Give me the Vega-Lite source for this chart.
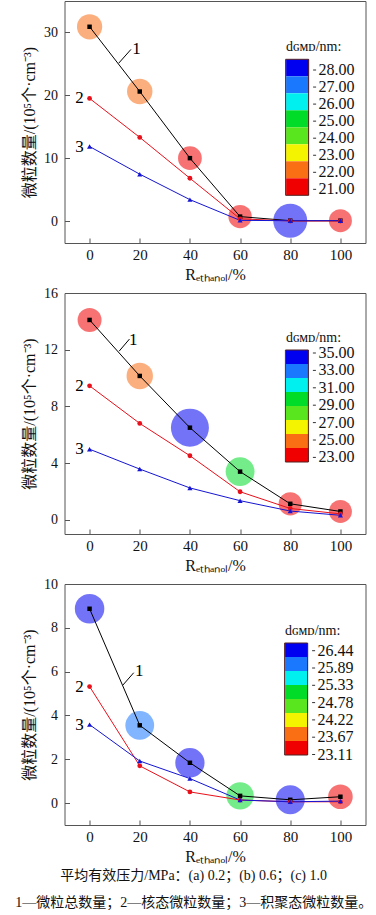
{
  "$schema": "https://vega.github.io/schema/vega-lite/v6.json",
  "padding": {"left": 14.5, "top": 0, "right": 5, "bottom": 4},
  "datasets": {
    "s1": [
      {"x": 0, "y": 30.9, "s": "1"}, {"x": 20, "y": 20.6, "s": "1"}, {"x": 40, "y": 10.0, "s": "1"}, {"x": 60, "y": 0.7, "s": "1"}, {"x": 80, "y": 0.05, "s": "1"}, {"x": 100, "y": 0.05, "s": "1"},
      {"x": 0, "y": 19.5, "s": "2"}, {"x": 20, "y": 13.3, "s": "2"}, {"x": 40, "y": 6.8, "s": "2"}, {"x": 60, "y": 0.35, "s": "2"}, {"x": 80, "y": 0.0, "s": "2"}, {"x": 100, "y": 0.0, "s": "2"},
      {"x": 0, "y": 11.85, "s": "3"}, {"x": 20, "y": 7.45, "s": "3"}, {"x": 40, "y": 3.4, "s": "3"}, {"x": 60, "y": 0.1, "s": "3"}, {"x": 80, "y": 0.05, "s": "3"}, {"x": 100, "y": 0.05, "s": "3"}
    ],
    "b1": [
      {"x": 0, "y": 30.9, "d": 22.2, "bin": 7}, {"x": 20, "y": 20.6, "d": 22.3, "bin": 7}, {"x": 40, "y": 10.0, "d": 21.4, "bin": 8},
      {"x": 60, "y": 0.7, "d": 21.2, "bin": 8}, {"x": 80, "y": 0.05, "d": 28.0, "bin": 1}, {"x": 100, "y": 0.05, "d": 21.0, "bin": 8}
    ],
    "t1": [{"x": 18.7, "y": 27.4, "t": "1"}, {"x": -4.0, "y": 19.5, "t": "2"}, {"x": -4.0, "y": 11.85, "t": "3"}],
    "r1": [{"x": 11.6, "y": 25.1, "x2": 16.5, "y2": 27.3}],
    "k1": [{"lab": "28.00"}, {"lab": "27.00"}, {"lab": "26.00"}, {"lab": "25.00"}, {"lab": "24.00"}, {"lab": "23.00"}, {"lab": "22.00"}, {"lab": "21.00"}],
    "s2": [
      {"x": 0, "y": 14.1, "s": "1"}, {"x": 20, "y": 10.15, "s": "1"}, {"x": 40, "y": 6.5, "s": "1"}, {"x": 60, "y": 3.4, "s": "1"}, {"x": 80, "y": 1.13, "s": "1"}, {"x": 100, "y": 0.59, "s": "1"},
      {"x": 0, "y": 9.45, "s": "2"}, {"x": 20, "y": 6.8, "s": "2"}, {"x": 40, "y": 4.52, "s": "2"}, {"x": 60, "y": 1.98, "s": "2"}, {"x": 80, "y": 0.8, "s": "2"}, {"x": 100, "y": 0.42, "s": "2"},
      {"x": 0, "y": 4.98, "s": "3"}, {"x": 20, "y": 3.58, "s": "3"}, {"x": 40, "y": 2.25, "s": "3"}, {"x": 60, "y": 1.35, "s": "3"}, {"x": 80, "y": 0.62, "s": "3"}, {"x": 100, "y": 0.32, "s": "3"}
    ],
    "b2": [
      {"x": 0, "y": 14.1, "d": 23.6, "bin": 8}, {"x": 20, "y": 10.15, "d": 25.2, "bin": 7}, {"x": 40, "y": 6.5, "d": 35.0, "bin": 1},
      {"x": 60, "y": 3.4, "d": 27.0, "bin": 4}, {"x": 80, "y": 1.13, "d": 23.2, "bin": 8}, {"x": 100, "y": 0.59, "d": 23.0, "bin": 8}
    ],
    "t2": [{"x": 17.4, "y": 12.7, "t": "1"}, {"x": -4.0, "y": 9.45, "t": "2"}, {"x": -4.0, "y": 4.98, "t": "3"}],
    "r2": [{"x": 11.8, "y": 11.9, "x2": 15.9, "y2": 12.75}],
    "k2": [{"lab": "35.00"}, {"lab": "33.00"}, {"lab": "31.00"}, {"lab": "29.00"}, {"lab": "27.00"}, {"lab": "25.00"}, {"lab": "23.00"}],
    "s3": [
      {"x": 0, "y": 8.87, "s": "1"}, {"x": 20, "y": 3.55, "s": "1"}, {"x": 40, "y": 1.84, "s": "1"}, {"x": 60, "y": 0.33, "s": "1"}, {"x": 80, "y": 0.15, "s": "1"}, {"x": 100, "y": 0.29, "s": "1"},
      {"x": 0, "y": 5.32, "s": "2"}, {"x": 20, "y": 1.7, "s": "2"}, {"x": 40, "y": 0.51, "s": "2"}, {"x": 60, "y": 0.14, "s": "2"}, {"x": 80, "y": 0.06, "s": "2"}, {"x": 100, "y": 0.06, "s": "2"},
      {"x": 0, "y": 3.58, "s": "3"}, {"x": 20, "y": 1.92, "s": "3"}, {"x": 40, "y": 1.12, "s": "3"}, {"x": 60, "y": 0.14, "s": "3"}, {"x": 80, "y": 0.06, "s": "3"}, {"x": 100, "y": 0.09, "s": "3"}
    ],
    "b3": [
      {"x": 0, "y": 8.87, "d": 26.44, "bin": 1}, {"x": 20, "y": 3.55, "d": 25.9, "bin": 2}, {"x": 40, "y": 1.84, "d": 26.3, "bin": 1},
      {"x": 60, "y": 0.33, "d": 25.0, "bin": 4}, {"x": 80, "y": 0.15, "d": 26.1, "bin": 1}, {"x": 100, "y": 0.29, "d": 23.2, "bin": 8}
    ],
    "t3": [{"x": 19.8, "y": 6.05, "t": "1"}, {"x": -4.0, "y": 5.32, "t": "2"}, {"x": -4.0, "y": 3.58, "t": "3"}],
    "r3": [{"x": 13.3, "y": 5.39, "x2": 17.6, "y2": 5.95}],
    "k3": [{"lab": "26.44"}, {"lab": "25.89"}, {"lab": "25.33"}, {"lab": "24.78"}, {"lab": "24.22"}, {"lab": "23.67"}, {"lab": "23.11"}]
  },
  "bounds": "flush",
  "spacing": 50,
  "vconcat": [
    {
      "width": 301, "height": 242,
      "resolve": {"scale": {"color": "independent", "shape": "independent", "size": "independent", "opacity": "independent"}},
      "encoding": {
        "x": {"field": "x", "type": "quantitative", "scale": {"domain": [-10, 110], "nice": false, "zero": false}, "axis": {"values": [0, 20, 40, 60, 80, 100], "title": "Rₑₜₕₐₙₒₗ/%"}},
        "y": {"field": "y", "type": "quantitative", "scale": {"domain": [-3.5, 35], "nice": false, "zero": false}, "axis": {"values": [0, 10, 20, 30], "title": "微粒数量/(10⁵个·cm⁻³)"}}
      },
      "layer": [
        {"data": {"name": "b1"}, "mark": {"type": "circle", "opacity": 0.55},
         "encoding": {
           "color": {"field": "bin", "type": "ordinal", "scale": {"domain": [1, 2, 3, 4, 5, 6, 7, 8], "range": ["#0000f0", "#1a78ff", "#00f0f0", "#00dc28", "#5ae61e", "#f4f400", "#fa6e14", "#f00000"]},
             "legend": {"orient": "none", "legendX": 221.6, "legendY": 39.3, "title": "dɢᴍᴅ/nm:", "titlePadding": 5, "symbolType": "M-1,-1H1.706V1H-1Z", "symbolSize": 289, "symbolStrokeWidth": 0, "symbolOpacity": 1, "rowPadding": 0, "labelExpr": "''", "labelFontSize": 1, "labelOffset": 0, "padding": 0}},
           "size": {"field": "d", "type": "quantitative", "scale": {"domain": [21, 28], "range": [529, 1156], "zero": false}, "legend": null}
         }},
        {"data": {"name": "k1"}, "mark": {"type": "point", "filled": false, "color": "#552222"},
         "encoding": {"opacity": {"field": "lab", "type": "ordinal", "scale": {"domain": ["bar"], "range": [1]},
           "legend": {"orient": "none", "legendX": 164.1, "legendY": 57.8, "title": null, "symbolType": "M-0.169,-1H0.169V1H-0.169Z", "symbolSize": 18496, "symbolStrokeWidth": 1, "symbolStrokeColor": "#552222", "symbolFillColor": "transparent", "labelExpr": "''", "labelFontSize": 1, "labelOffset": -100, "padding": 0}}}},
        {"data": {"name": "s1"}, "mark": {"type": "line", "strokeWidth": 1},
         "encoding": {"color": {"field": "s", "type": "nominal", "scale": {"domain": ["1", "2", "3"], "range": ["#000000", "#e8101a", "#1414d2"]}, "legend": null}}},
        {"data": {"name": "s1"}, "mark": {"type": "point", "filled": true, "opacity": 1},
         "encoding": {
           "color": {"field": "s", "type": "nominal", "scale": {"domain": ["1", "2", "3"], "range": ["#000000", "#e8101a", "#1414d2"]}, "legend": null},
           "shape": {"field": "s", "type": "nominal", "scale": {"domain": ["1", "2", "3"], "range": ["square", "circle", "triangle-up"]}, "legend": null},
           "size": {"field": "s", "type": "ordinal", "scale": {"domain": ["1", "2", "3"], "range": [20, 26, 34]}, "legend": null}
         }},
        {"data": {"name": "r1"}, "mark": {"type": "rule", "color": "#000000", "strokeWidth": 1},
         "encoding": {"x2": {"field": "x2"}, "y2": {"field": "y2"}}},
        {"data": {"name": "t1"}, "mark": {"type": "text", "font": "Liberation Serif", "fontSize": 17, "color": "#000000"},
         "encoding": {"text": {"field": "t"}}},
        {"data": {"name": "k1"}, "mark": {"type": "point", "opacity": 0, "color": "#333333"},
         "encoding": {"shape": {"field": "lab", "type": "nominal", "scale": {"domain": ["28.00", "27.00", "26.00", "25.00", "24.00", "23.00", "22.00", "21.00"], "range": ["M-1,0H1"]},
           "legend": {"orient": "none", "legendX": 242.1, "legendY": 61, "title": null, "symbolSize": 9, "symbolStrokeWidth": 1, "symbolStrokeColor": "#333333", "symbolFillColor": "transparent", "symbolOpacity": 1, "labelFontSize": 16, "labelOffset": -4, "rowPadding": 1.05, "padding": 0}}}}
      ]
    },
    {
      "width": 301, "height": 241,
      "resolve": {"scale": {"color": "independent", "shape": "independent", "size": "independent", "opacity": "independent"}},
      "encoding": {
        "x": {"field": "x", "type": "quantitative", "scale": {"domain": [-10, 110], "nice": false, "zero": false}, "axis": {"values": [0, 20, 40, 60, 80, 100], "title": "Rₑₜₕₐₙₒₗ/%"}},
        "y": {"field": "y", "type": "quantitative", "scale": {"domain": [-1, 16], "nice": false, "zero": false}, "axis": {"values": [0, 4, 8, 12, 16], "title": "微粒数量/(10⁵个·cm⁻³)"}}
      },
      "layer": [
        {"data": {"name": "b2"}, "mark": {"type": "circle", "opacity": 0.55},
         "encoding": {
           "color": {"field": "bin", "type": "ordinal", "scale": {"domain": [1, 2, 3, 4, 5, 6, 7, 8], "range": ["#0000f0", "#1a78ff", "#00f0f0", "#00dc28", "#5ae61e", "#f4f400", "#fa6e14", "#f00000"]},
             "legend": {"orient": "none", "legendX": 221.4, "legendY": 38, "title": "dɢᴍᴅ/nm:", "titlePadding": 5, "symbolType": "M-1,-1H2.286V1H-1Z", "symbolSize": 196, "symbolStrokeWidth": 0, "symbolOpacity": 1, "rowPadding": 0, "labelExpr": "''", "labelFontSize": 1, "labelOffset": 0, "padding": 0}},
           "size": {"field": "d", "type": "quantitative", "scale": {"domain": [23, 35], "range": [529, 1444], "zero": false}, "legend": null}
         }},
        {"data": {"name": "k2"}, "mark": {"type": "point", "filled": false, "color": "#552222"},
         "encoding": {"opacity": {"field": "lab", "type": "ordinal", "scale": {"domain": ["bar"], "range": [1]},
           "legend": {"orient": "none", "legendX": 175.9, "legendY": 56.5, "title": null, "symbolType": "M-0.205,-1H0.205V1H-0.205Z", "symbolSize": 12544, "symbolStrokeWidth": 1, "symbolStrokeColor": "#552222", "symbolFillColor": "transparent", "labelExpr": "''", "labelFontSize": 1, "labelOffset": -100, "padding": 0}}}},
        {"data": {"name": "s2"}, "mark": {"type": "line", "strokeWidth": 1},
         "encoding": {"color": {"field": "s", "type": "nominal", "scale": {"domain": ["1", "2", "3"], "range": ["#000000", "#e8101a", "#1414d2"]}, "legend": null}}},
        {"data": {"name": "s2"}, "mark": {"type": "point", "filled": true, "opacity": 1},
         "encoding": {
           "color": {"field": "s", "type": "nominal", "scale": {"domain": ["1", "2", "3"], "range": ["#000000", "#e8101a", "#1414d2"]}, "legend": null},
           "shape": {"field": "s", "type": "nominal", "scale": {"domain": ["1", "2", "3"], "range": ["square", "circle", "triangle-up"]}, "legend": null},
           "size": {"field": "s", "type": "ordinal", "scale": {"domain": ["1", "2", "3"], "range": [20, 26, 34]}, "legend": null}
         }},
        {"data": {"name": "r2"}, "mark": {"type": "rule", "color": "#000000", "strokeWidth": 1},
         "encoding": {"x2": {"field": "x2"}, "y2": {"field": "y2"}}},
        {"data": {"name": "t2"}, "mark": {"type": "text", "font": "Liberation Serif", "fontSize": 17, "color": "#000000"},
         "encoding": {"text": {"field": "t"}}},
        {"data": {"name": "k2"}, "mark": {"type": "point", "opacity": 0, "color": "#333333"},
         "encoding": {"shape": {"field": "lab", "type": "nominal", "scale": {"domain": ["35.00", "33.00", "31.00", "29.00", "27.00", "25.00", "23.00"], "range": ["M-1,0H1"]},
           "legend": {"orient": "none", "legendX": 241.9, "legendY": 52, "title": null, "symbolSize": 9, "symbolStrokeWidth": 1, "symbolStrokeColor": "#333333", "symbolFillColor": "transparent", "symbolOpacity": 1, "labelFontSize": 16, "labelOffset": -4, "rowPadding": 1.4, "padding": 0}}}}
      ]
    },
    {
      "width": 301, "height": 241,
      "resolve": {"scale": {"color": "independent", "shape": "independent", "size": "independent", "opacity": "independent"}},
      "encoding": {
        "x": {"field": "x", "type": "quantitative", "scale": {"domain": [-10, 110], "nice": false, "zero": false}, "axis": {"values": [0, 20, 40, 60, 80, 100], "title": "Rₑₜₕₐₙₒₗ/%"}},
        "y": {"field": "y", "type": "quantitative", "scale": {"domain": [-1, 10], "nice": false, "zero": false}, "axis": {"values": [0, 2, 4, 6, 8, 10], "title": "微粒数量/(10⁵个·cm⁻³)"}}
      },
      "layer": [
        {"data": {"name": "b3"}, "mark": {"type": "circle", "opacity": 0.55},
         "encoding": {
           "color": {"field": "bin", "type": "ordinal", "scale": {"domain": [1, 2, 3, 4, 5, 6, 7, 8], "range": ["#0000f0", "#1a78ff", "#00f0f0", "#00dc28", "#5ae61e", "#f4f400", "#fa6e14", "#f00000"]},
             "legend": {"orient": "none", "legendX": 220.6, "legendY": 40, "title": "dɢᴍᴅ/nm:", "titlePadding": 5, "symbolType": "M-1,-1H2.286V1H-1Z", "symbolSize": 196, "symbolStrokeWidth": 0, "symbolOpacity": 1, "rowPadding": 0, "labelExpr": "''", "labelFontSize": 1, "labelOffset": 0, "padding": 0}},
           "size": {"field": "d", "type": "quantitative", "scale": {"domain": [23.11, 26.44], "range": [600, 870], "zero": false}, "legend": null}
         }},
        {"data": {"name": "k3"}, "mark": {"type": "point", "filled": false, "color": "#552222"},
         "encoding": {"opacity": {"field": "lab", "type": "ordinal", "scale": {"domain": ["bar"], "range": [1]},
           "legend": {"orient": "none", "legendX": 175.1, "legendY": 58.5, "title": null, "symbolType": "M-0.205,-1H0.205V1H-0.205Z", "symbolSize": 12544, "symbolStrokeWidth": 1, "symbolStrokeColor": "#552222", "symbolFillColor": "transparent", "labelExpr": "''", "labelFontSize": 1, "labelOffset": -100, "padding": 0}}}},
        {"data": {"name": "s3"}, "mark": {"type": "line", "strokeWidth": 1},
         "encoding": {"color": {"field": "s", "type": "nominal", "scale": {"domain": ["1", "2", "3"], "range": ["#000000", "#e8101a", "#1414d2"]}, "legend": null}}},
        {"data": {"name": "s3"}, "mark": {"type": "point", "filled": true, "opacity": 1},
         "encoding": {
           "color": {"field": "s", "type": "nominal", "scale": {"domain": ["1", "2", "3"], "range": ["#000000", "#e8101a", "#1414d2"]}, "legend": null},
           "shape": {"field": "s", "type": "nominal", "scale": {"domain": ["1", "2", "3"], "range": ["square", "circle", "triangle-up"]}, "legend": null},
           "size": {"field": "s", "type": "ordinal", "scale": {"domain": ["1", "2", "3"], "range": [20, 26, 34]}, "legend": null}
         }},
        {"data": {"name": "r3"}, "mark": {"type": "rule", "color": "#000000", "strokeWidth": 1},
         "encoding": {"x2": {"field": "x2"}, "y2": {"field": "y2"}}},
        {"data": {"name": "t3"}, "mark": {"type": "text", "font": "Liberation Serif", "fontSize": 17, "color": "#000000"},
         "encoding": {"text": {"field": "t"}}},
        {"data": {"name": "k3"}, "mark": {"type": "point", "opacity": 0, "color": "#333333"},
         "encoding": {"shape": {"field": "lab", "type": "nominal", "scale": {"domain": ["26.44", "25.89", "25.33", "24.78", "24.22", "23.67", "23.11"], "range": ["M-1,0H1"]},
           "legend": {"orient": "none", "legendX": 241.1, "legendY": 58.7, "title": null, "symbolSize": 9, "symbolStrokeWidth": 1, "symbolStrokeColor": "#333333", "symbolFillColor": "transparent", "symbolOpacity": 1, "labelFontSize": 16, "labelOffset": -4, "rowPadding": 1.3, "padding": 0}}}}
      ]
    }
  ],
  "title": {
    "text": ["平均有效压力/MPa：(a) 0.2；(b) 0.6；(c) 1.0", "1—微粒总数量；2—核态微粒数量；3—积聚态微粒数量。"],
    "orient": "bottom", "anchor": "middle", "offset": 4,
    "font": "Liberation Serif, Noto Sans CJK SC", "fontSize": 14, "fontWeight": "normal", "color": "#111111", "lineHeight": 27
  },
  "config": {
    "view": {"stroke": "#555555", "strokeWidth": 1},
    "axis": {
      "labelFont": "Liberation Serif", "labelFontSize": 15, "labelColor": "#111111",
      "titleFont": "Liberation Serif, Noto Sans CJK SC", "titleFontSize": 16, "titleFontWeight": "normal", "titleColor": "#111111",
      "grid": false, "domain": false, "ticks": true, "tickSize": -5, "tickColor": "#555555"
    },
    "axisX": {"labelPadding": 9, "titlePadding": 4},
    "axisY": {"labelFontSize": 14, "labelPadding": 12, "titlePadding": 5.7},
    "legend": {
      "titleFont": "Liberation Serif", "titleFontSize": 14, "titleFontWeight": "normal", "titleColor": "#111111",
      "labelFont": "Liberation Serif", "labelFontSize": 15, "labelColor": "#111111"
    }
  }
}
